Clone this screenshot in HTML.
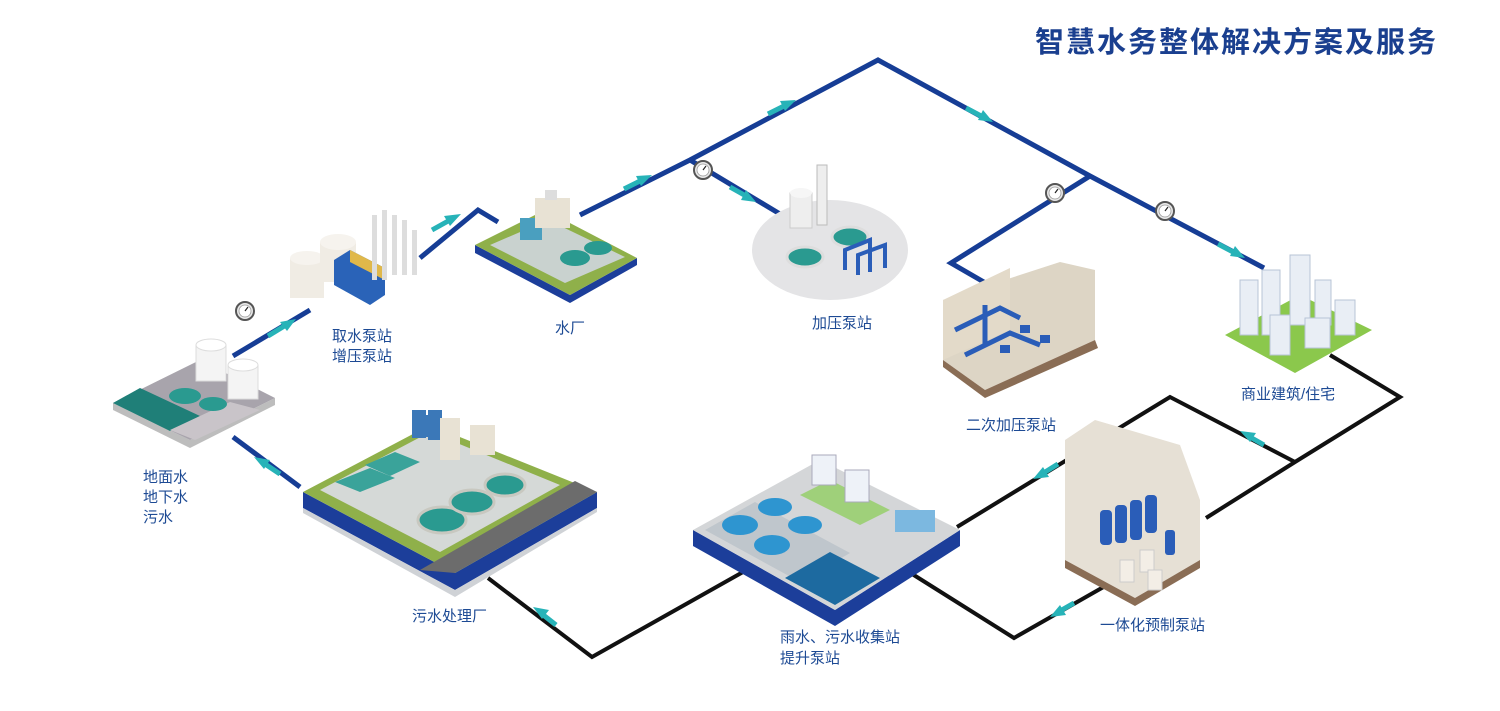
<!DOCTYPE html>
<html><head><meta charset="utf-8"><style>
html,body{margin:0;padding:0;background:#fff;}
svg{display:block}
text{font-family:"Liberation Sans","Noto Sans CJK SC",sans-serif;fill:#1d4a94;}
</style></head><body>
<svg width="1500" height="711" viewBox="0 0 1500 711" xmlns="http://www.w3.org/2000/svg">
<defs>
<g id="gauge"><circle r="9" fill="#e8e8e8" stroke="#555" stroke-width="2"/><circle r="6" fill="#fff" stroke="#999" stroke-width="0.8"/><line x1="0" y1="0" x2="3" y2="-4" stroke="#222" stroke-width="1.2"/></g>
</defs>
<text x="1035" y="52" font-size="29" font-weight="bold" style="fill:#1a3f8f;letter-spacing:2px">智慧水务整体解决方案及服务</text>

<!-- blue pipes -->
<g fill="none" stroke="#163d95" stroke-width="5" stroke-linejoin="miter">
<polyline points="233,356 310,310"/>
<polyline points="420,258 478,210 498,222"/>
<polyline points="580,215 690,160 878,60 1090,176 1264,268"/>
<polyline points="690,160 780,214"/>
<polyline points="1090,176 951,263 989,285"/>
<polyline points="233,437 300,487"/>
</g>
<!-- black pipes -->
<g fill="none" stroke="#111" stroke-width="4">
<polyline points="1330,355 1400,397 1295,462 1206,518"/>
<polyline points="1295,462 1170,397 957,527"/>
<polyline points="1107,585 1014,638 909,572"/>
<polyline points="743,572 592,657 488,578"/>
</g>
<!-- arrows -->
<g fill="#27b3b8" stroke="#27b3b8" stroke-width="5">
<line x1="268" y1="336" x2="286" y2="325"/><polygon stroke="none" points="296,319 280,322 287,331"/>
<line x1="432" y1="230" x2="450" y2="220"/><polygon stroke="none" points="461,214 444,216 450,226"/>
<line x1="624" y1="189" x2="642" y2="180"/><polygon stroke="none" points="652,175 636,176 641,186"/>
<line x1="768" y1="114" x2="786" y2="105"/><polygon stroke="none" points="796,100 780,101 785,111"/>
<line x1="966" y1="108" x2="983" y2="117"/><polygon stroke="none" points="993,122 983,110 978,120"/>
<line x1="730" y1="187" x2="746" y2="196"/><polygon stroke="none" points="756,202 746,190 741,200"/>
<line x1="1218" y1="244" x2="1235" y2="253"/><polygon stroke="none" points="1245,258 1235,246 1230,256"/>
<line x1="262" y1="462" x2="280" y2="474"/><polygon stroke="none" points="254,457 270,460 264,469"/>
<line x1="1250" y1="437" x2="1264" y2="445"/><polygon stroke="none" points="1240,431 1256,433 1250,442"/>
<line x1="1058" y1="464" x2="1042" y2="474"/><polygon stroke="none" points="1033,479 1043,467 1049,477"/>
<line x1="1074" y1="603" x2="1060" y2="611"/><polygon stroke="none" points="1050,617 1060,605 1066,615"/>
<line x1="556" y1="625" x2="542" y2="614"/><polygon stroke="none" points="533,607 549,610 542,619"/>
</g>
<!-- gauges -->
<use href="#gauge" x="245" y="311"/><use href="#gauge" x="703" y="170"/><use href="#gauge" x="1055" y="193"/><use href="#gauge" x="1165" y="211"/>

<!-- source platform -->
<polygon points="113,410 190,448 275,405 275,398 190,440 113,403" fill="#bdbdbd"/>
<polygon points="113,403 190,440 275,398 200,360" fill="#a8a4ac"/>
<polygon points="113,403 170,431 200,416 140,388" fill="#1f7f78"/>
<polygon points="170,430 230,402 260,410 195,440" fill="#c9c4c9"/>
<ellipse cx="185" cy="396" rx="16" ry="8" fill="#2a9a90"/><ellipse cx="213" cy="404" rx="14" ry="7" fill="#2a9a90"/>
<rect x="196" y="345" width="30" height="36" fill="#f4f4f4" stroke="#ddd"/><ellipse cx="211" cy="345" rx="15" ry="6" fill="#fff" stroke="#ddd"/>
<rect x="228" y="365" width="30" height="34" fill="#f4f4f4" stroke="#ddd"/><ellipse cx="243" cy="365" rx="15" ry="6" fill="#fff" stroke="#ddd"/>

<!-- intake pump -->
<rect x="290" y="258" width="34" height="40" fill="#f0ece4"/><ellipse cx="307" cy="258" rx="17" ry="7" fill="#f6f3ee"/>
<rect x="320" y="242" width="36" height="40" fill="#f0ece4"/><ellipse cx="338" cy="242" rx="18" ry="8" fill="#f6f3ee"/>
<polygon points="334,285 370,305 385,295 385,268 350,250 334,260" fill="#2a63b8"/>
<polygon points="350,250 385,268 385,280 350,262" fill="#e0b84a"/>
<g fill="#ddd"><rect x="372" y="215" width="5" height="65"/><rect x="382" y="210" width="5" height="70"/><rect x="392" y="215" width="5" height="60"/><rect x="402" y="220" width="5" height="55"/><rect x="412" y="230" width="5" height="45"/></g>

<!-- water plant -->
<polygon points="475,245 570,295 637,258 637,265 570,303 475,253" fill="#1c3e9a"/>
<polygon points="475,245 570,295 637,258 545,210" fill="#8fb04a"/>
<polygon points="490,245 565,283 625,257 548,220" fill="#c9d2cf"/>
<ellipse cx="575" cy="258" rx="15" ry="8" fill="#2a9a90"/><ellipse cx="598" cy="248" rx="14" ry="7" fill="#2a9a90"/>
<rect x="520" y="218" width="22" height="22" fill="#4a9fbf"/>
<rect x="535" y="198" width="35" height="30" fill="#e8e2d4"/><rect x="545" y="190" width="12" height="10" fill="#ddd"/>

<!-- boost pump -->
<ellipse cx="830" cy="250" rx="78" ry="50" fill="#e4e4e6"/>
<rect x="790" y="193" width="22" height="35" fill="#eee" stroke="#ccc"/><ellipse cx="801" cy="193" rx="11" ry="5" fill="#f6f6f6"/>
<rect x="817" y="165" width="10" height="60" fill="#eee" stroke="#bbb"/>
<ellipse cx="805" cy="257" rx="18" ry="10" fill="#2a9a90" stroke="#ddd" stroke-width="3"/>
<ellipse cx="850" cy="237" rx="18" ry="10" fill="#2a9a90" stroke="#ddd" stroke-width="3"/>
<g stroke="#2a5db8" stroke-width="4" fill="none"><polyline points="845,270 845,250 870,240 870,272"/><polyline points="858,275 858,255 885,245 885,268"/></g>

<!-- secondary boost -->
<polygon points="943,300 943,360 985,390 1095,340 1095,270 1060,262" fill="#ddd5c5"/>
<polygon points="943,360 985,390 1095,340 1098,348 985,398 943,367" fill="#8a6d55"/>
<polygon points="943,300 1010,268 1010,330 943,360" fill="#e3dac9"/>
<g stroke="#2a5db8" stroke-width="5" fill="none"><polyline points="955,330 1000,308 1020,318"/><polyline points="965,355 1010,333 1040,345"/><polyline points="985,305 985,345"/></g>
<g fill="#2a5db8"><rect x="1020" y="325" width="10" height="8"/><rect x="1040" y="335" width="10" height="8"/><rect x="1000" y="345" width="10" height="8"/></g>

<!-- buildings -->
<polygon points="1225,335 1295,373 1372,330 1300,295" fill="#8bc84c"/>
<g fill="#e9eef5" stroke="#b8c4d6"><rect x="1240" y="280" width="18" height="55"/><rect x="1262" y="270" width="18" height="65"/><rect x="1290" y="255" width="20" height="70"/><rect x="1315" y="280" width="16" height="45"/><rect x="1335" y="300" width="20" height="35"/><rect x="1270" y="315" width="20" height="40"/><rect x="1305" y="318" width="25" height="30"/></g>

<!-- sewage plant -->
<polygon points="303,492 455,573 597,492 597,508 455,590 303,508" fill="#1c3e9a"/>
<polygon points="303,508 455,590 597,508 597,512 455,597 303,513" fill="#cfd2d6"/>
<polygon points="303,492 455,573 597,492 430,425" fill="#8fb04a"/>
<polygon points="420,570 455,573 597,492 575,481" fill="#6c6c6c"/>
<polygon points="320,490 440,552 560,485 430,432" fill="#d5d9d7"/>
<ellipse cx="442" cy="520" rx="24" ry="13" fill="#2a9a90" stroke="#c8c8c0" stroke-width="3"/>
<ellipse cx="472" cy="502" rx="22" ry="12" fill="#2a9a90" stroke="#c8c8c0" stroke-width="3"/>
<ellipse cx="505" cy="485" rx="20" ry="11" fill="#2a9a90" stroke="#c8c8c0" stroke-width="3"/>
<polygon points="335,482 370,468 395,478 360,492" fill="#3aa39a"/>
<polygon points="365,465 395,452 420,462 390,476" fill="#3aa39a"/>
<g fill="#3b78b8"><rect x="412" y="410" width="14" height="28"/><rect x="428" y="410" width="14" height="30"/><rect x="422" y="415" width="12" height="22"/></g>
<rect x="440" y="418" width="20" height="42" fill="#e8e2d4"/><rect x="470" y="425" width="25" height="30" fill="#e8e2d4"/>

<!-- collection station -->
<polygon points="693,530 835,610 960,530 960,546 835,626 693,546" fill="#1c3e9a"/>
<polygon points="693,530 835,610 960,530 820,460" fill="#d4d6d8"/>
<polygon points="705,530 800,582 850,553 755,502" fill="#bfc6cc"/>
<ellipse cx="740" cy="525" rx="18" ry="10" fill="#2e95d0"/><ellipse cx="775" cy="507" rx="17" ry="9" fill="#2e95d0"/>
<ellipse cx="772" cy="545" rx="18" ry="10" fill="#2e95d0"/><ellipse cx="805" cy="525" rx="17" ry="9" fill="#2e95d0"/>
<polygon points="785,578 835,605 880,578 830,552" fill="#1d6aa0"/>
<polygon points="800,495 860,525 890,510 830,480" fill="#9fd07a"/>
<rect x="812" y="455" width="24" height="30" fill="#eef2f8" stroke="#aab"/><rect x="845" y="470" width="24" height="32" fill="#eef2f8" stroke="#aab"/>
<rect x="895" y="510" width="40" height="22" fill="#7cb8e0"/>

<!-- prefab pump -->
<polygon points="1065,560 1135,598 1200,560 1200,500 1180,445 1095,420 1065,440" fill="#e6e0d5"/>
<polygon points="1065,560 1135,598 1200,560 1200,568 1135,606 1065,568" fill="#8a6d55"/>
<g fill="#2a5db8"><rect x="1100" y="510" width="12" height="35" rx="4"/><rect x="1115" y="505" width="12" height="38" rx="4"/><rect x="1130" y="500" width="12" height="40" rx="4"/><rect x="1145" y="495" width="12" height="38" rx="4"/><rect x="1165" y="530" width="10" height="25" rx="3"/></g>
<g fill="#f3eee6" stroke="#ccc"><rect x="1120" y="560" width="14" height="22"/><rect x="1140" y="550" width="14" height="22"/><rect x="1148" y="570" width="14" height="20"/></g>

<!-- labels -->
<g font-size="15">
<text x="143" y="482">地面水</text><text x="143" y="502">地下水</text><text x="143" y="522">污水</text>
<text x="332" y="341">取水泵站</text><text x="332" y="361">增压泵站</text>
<text x="555" y="333">水厂</text>
<text x="812" y="328">加压泵站</text>
<text x="966" y="430">二次加压泵站</text>
<text x="1241" y="399">商业建筑/住宅</text>
<text x="412" y="621">污水处理厂</text>
<text x="780" y="642">雨水、污水收集站</text><text x="780" y="663">提升泵站</text>
<text x="1100" y="630">一体化预制泵站</text>
</g>
</svg>
</body></html>
